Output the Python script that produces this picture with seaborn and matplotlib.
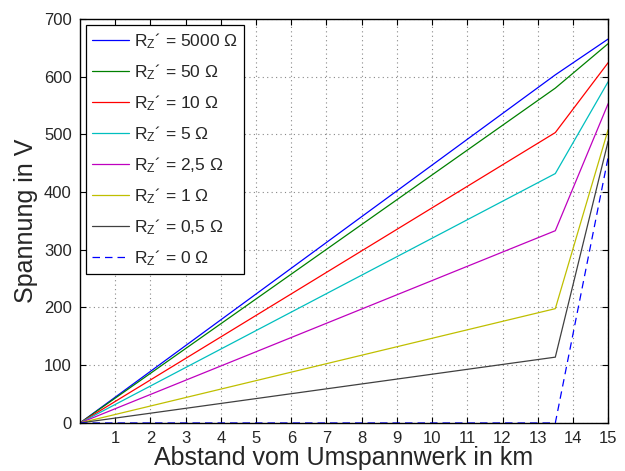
import pandas as pd
import matplotlib.pyplot as plt
import seaborn as sns

# distance points (km): start, transition, end
distance = [0, 13.5, 15]

# voltages (V) at each distance point
u_5000 = [0, 603, 665]
u_50 = [0, 580, 657]
u_10 = [0, 503, 624]
u_5 = [0, 432, 591]
u_2_5 = [0, 333, 553]
u_1 = [0, 198, 508]
u_0_5 = [0, 114, 488]
u_0 = [0, 0, 460]

labels = ["5000", "50", "10", "5", "2,5", "1", "0,5", "0"]
series = [u_5000, u_50, u_10, u_5, u_2_5, u_1, u_0_5, u_0]
colors = ["#0000ff", "#008000", "#ff0000", "#00bfbf", "#bf00bf",
          "#bfbf00", "#404040", "#0000ff"]

sns.set_style("ticks")
plt.rcParams["font.family"] = ["Liberation Sans", "DejaVu Sans"]
plt.rcParams["mathtext.fontset"] = "custom"
plt.rcParams["mathtext.rm"] = "Liberation Sans"
plt.rcParams["mathtext.it"] = "Liberation Sans"

fig = plt.figure(figsize=(6.25, 4.71), dpi=100)
ax = fig.add_axes([0.128, 0.102, 0.845, 0.858])

for lab, vals, col in zip(labels, series, colors):
    df = pd.DataFrame({"km": distance, "V": vals})
    line_label = r"R$_\mathrm{Z}$´ = " + lab + " Ω"
    sns.lineplot(data=df, x="km", y="V", color=col, lw=0.9, ax=ax,
                 label=line_label, sort=False)

# last series is dashed
ax.lines[-1].set_dashes((6, 4))

ax.set_xlim(0, 15)
ax.set_ylim(0, 700)
ax.set_xticks(range(1, 16))
ax.set_yticks(range(0, 701, 100))
ax.tick_params(direction="in", top=True, right=True, labelsize=12,
               length=4, width=0.8, color="black", pad=6)
ax.grid(True, linestyle=(0, (1, 3)), color="#888888", lw=0.8)
for sp in ax.spines.values():
    sp.set_color("black")
    sp.set_linewidth(1.0)

ax.set_xlabel("Abstand vom Umspannwerk in km", fontsize=18, labelpad=0)
ax.set_ylabel("Spannung in V", fontsize=18, labelpad=4)

leg = ax.legend(loc="upper left", fontsize=12.5, frameon=True, fancybox=False,
                edgecolor="black", framealpha=1, labelspacing=0.65,
                handlelength=2.1, borderaxespad=0.35, handletextpad=0.3,
                borderpad=0.35)
leg.get_frame().set_linewidth(0.9)
for h in leg.get_lines()[:-1]:
    h.set_linestyle("-")

fig.savefig("out.png", dpi=100)
